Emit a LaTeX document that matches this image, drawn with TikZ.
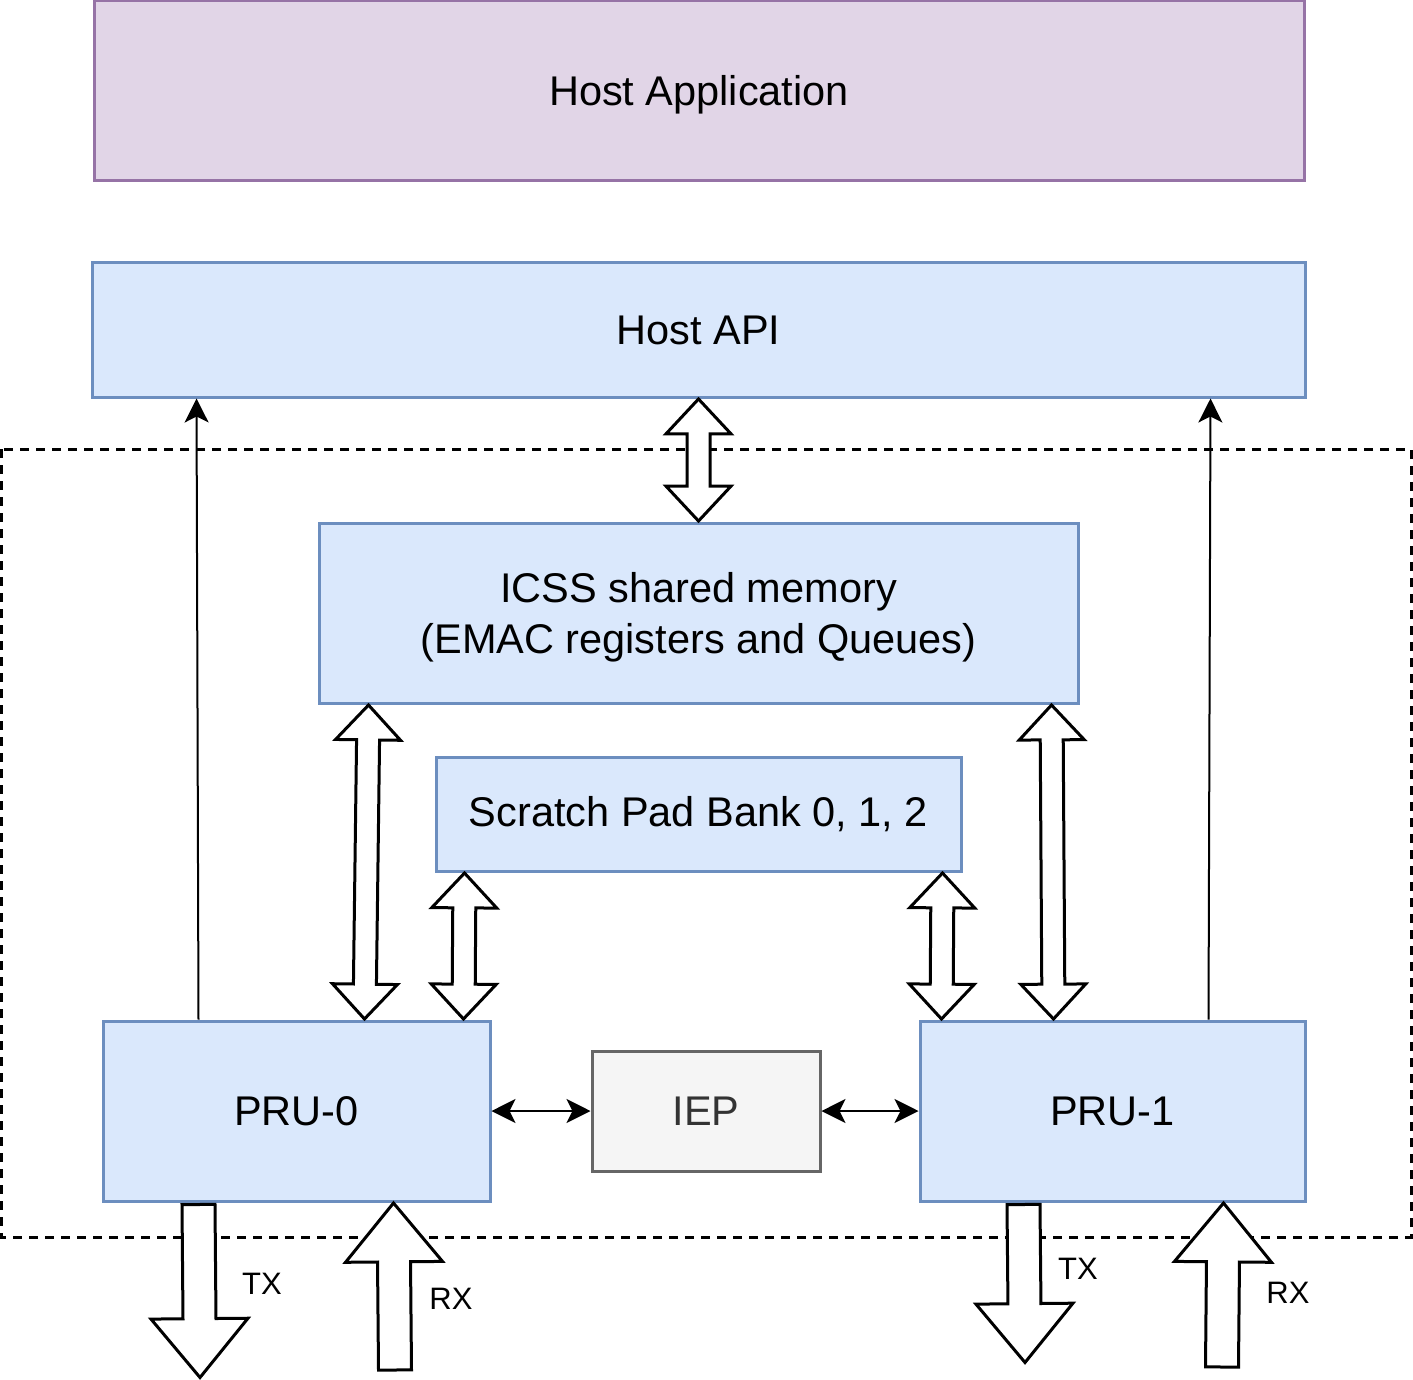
\documentclass[tikz,border=0pt]{standalone}
\usepackage{fontspec}
\setmainfont{Liberation Sans}
\usepackage{tikz}
\usetikzlibrary{shapes.arrows,arrows.meta,calc}

\definecolor{purfill}{HTML}{E1D5E7}
\definecolor{purline}{HTML}{9673A6}
\definecolor{bluefill}{HTML}{DAE8FC}
\definecolor{blueline}{HTML}{6C8EBF}
\definecolor{greyfill}{HTML}{F5F5F5}
\definecolor{greyline}{HTML}{666666}
\definecolor{greytext}{HTML}{333333}

\begin{document}
\begin{tikzpicture}[x=0.5pt,y=-0.5pt,
	blk/.style={draw=blueline, fill=bluefill, line width=1.5pt, inner sep=0pt, align=center, font=\fontsize{20.75}{25.5}\selectfont},
	lbl/.style={font=\fontsize{15.5}{18}\selectfont, inner sep=0pt},
	link/.style={line width=1pt, -{Stealth[length=12pt, width=12pt, inset=3pt]}},
	duplex/.style={line width=1pt, {Stealth[length=12pt, width=12pt, inset=3pt]}-{Stealth[length=12pt, width=12pt, inset=3pt]}},
	fatdbl/.style={midway, sloped, allow upside down, double arrow, draw, fill=white, line width=1.5pt, inner xsep=0pt, inner ysep=5pt, outer sep=0pt, minimum width=0pt, double arrow head extend=10.5pt, double arrow tip angle=86},
	fatone/.style={pos=0, anchor=tail, sloped, allow upside down, single arrow, draw, fill=white, line width=1.5pt, inner xsep=0pt, inner ysep=7.5pt, outer sep=0pt, minimum width=0pt, single arrow head extend=16pt, single arrow tip angle=79}]
	\useasboundingbox (0,0) rectangle (1413,1380);
	\node[blk, draw=purline, fill=purfill] (happ) at (699,91) [minimum width=605pt, minimum height=90pt] {\raisebox{0pt}[\dimexpr\height+4pt\relax]{Host Application}};
	\node[blk] (hapi) at (698.5,330) [minimum width=606.5pt, minimum height=67pt] {Host API};
	\draw[line width=1.5pt, dash pattern=on 4.5pt off 3.5pt] (1,449) rectangle (1411,1237);
		\node[blk] (icss) at (698.5,613) [minimum width=379.5pt, minimum height=90pt] {\raisebox{0pt}[\dimexpr\height+5pt\relax]{\begin{tabular}{@{}c@{}}ICSS shared memory\\(EMAC registers and Queues)\end{tabular}}};
		\node[blk] (spad) at (698.5,814) [minimum width=262.5pt, minimum height=57pt] {Scratch Pad Bank 0, 1, 2};
			\node[blk] (pru0) at (296.5,1111) [minimum width=193.5pt, minimum height=90pt] {PRU-0};
			\node[blk, draw=greyline, fill=greyfill, text=greytext] (iep) at (706,1111) [minimum width=114pt, minimum height=60pt] {IEP};
			\node[blk] (pru1) at (1112.5,1111) [minimum width=192.5pt, minimum height=90pt] {PRU-1};
	\coordinate (tx0) at (200,1376);
	\coordinate (rx0) at (395,1370);
	\coordinate (tx1) at (1025,1361);
	\coordinate (rx1) at (1222,1367);
	\draw[link] ($(pru0.north west)+(97,0)$) -- ($(hapi.south west)+(106,0)$);
	\draw[link] ($(pru1.north west)+(290,0)$) -- ($(hapi.south west)+(1120,0)$);
	\draw[duplex] (pru0) -- (iep);
	\draw[duplex] (iep) -- (pru1);
	\path ($(hapi.south)+(0,2)$) -- node[fatdbl, minimum height=61pt] {} ($(icss.north)+(0,-2)$);
	\path ($(icss.south west)+(51,2)$) -- node[fatdbl, minimum height=157pt] {} ($(pru0.north west)+(263,-2)$);
	\path ($(spad.south west)+(30,2)$) -- node[fatdbl, minimum height=73pt] {} ($(pru0.north west)+(362,-2)$);
	\path ($(spad.south west)+(508,2)$) -- node[fatdbl, minimum height=73pt] {} ($(pru1.north west)+(23,-2)$);
	\path ($(icss.south west)+(734,2)$) -- node[fatdbl, minimum height=157pt] {} ($(pru1.north west)+(135,-2)$);
	\path ($(pru0.south west)+(97,2)$) -- node[fatone, minimum height=86.5pt] {} (tx0);
	\path (rx0) -- node[fatone, minimum height=83.5pt] {} ($(pru0.south west)+(292,2)$);
	\path ($(pru1.south west)+(105,2)$) -- node[fatone, minimum height=79pt] {} (tx1);
	\path (rx1) -- node[fatone, minimum height=82pt] {} ($(pru1.south west)+(305,2)$);
	\node[lbl] (txa) at (262,1284) {TX};
	\node[lbl] (rxa) at (451,1299) {RX};
	\node[lbl] (txb) at (1078,1269) {TX};
	\node[lbl] (rxb) at (1288,1293) {RX};
\end{tikzpicture}
\end{document}
